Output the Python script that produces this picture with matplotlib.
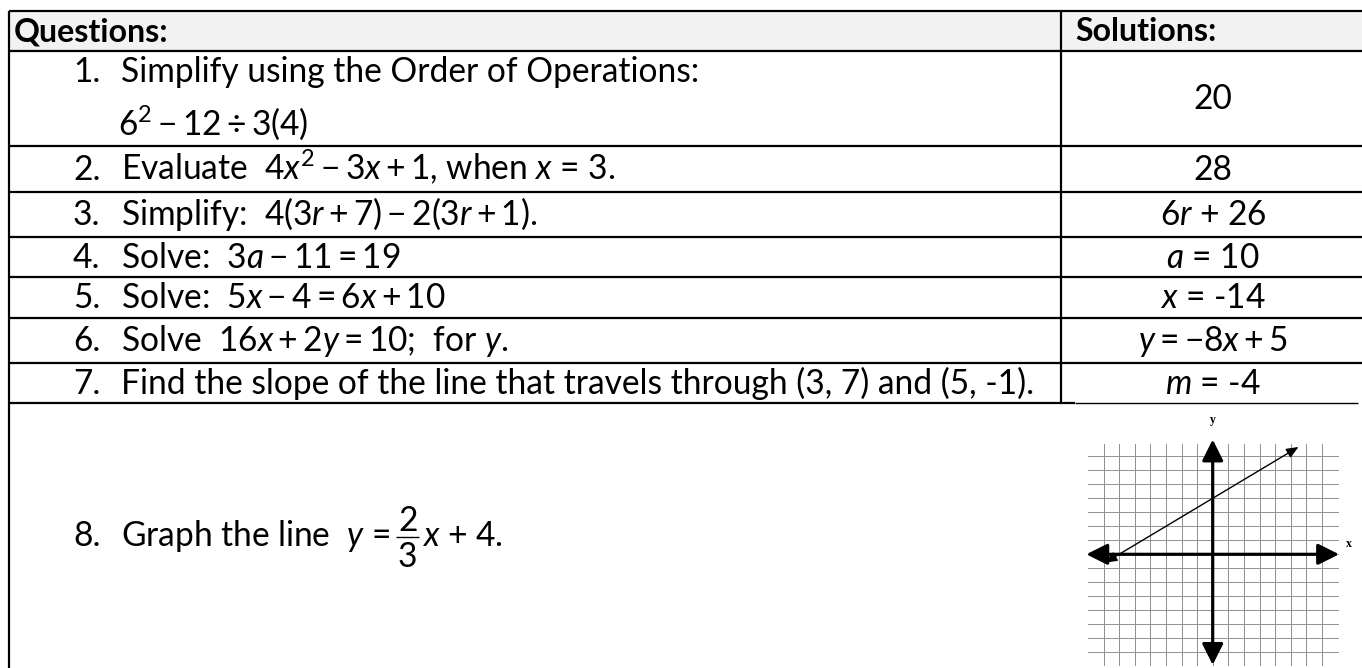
import matplotlib
matplotlib.use("Agg")
import matplotlib.pyplot as plt

plt.rcParams['font.family'] = ['Lato', 'DejaVu Sans']
plt.rcParams['mathtext.fontset'] = 'custom'
plt.rcParams['mathtext.rm'] = 'Lato'
plt.rcParams['mathtext.it'] = 'Lato:italic'
plt.rcParams['mathtext.bf'] = 'Lato:bold'

# ---------------- data ----------------
header_labels = ["Questions:", "Solutions:"]
question_numbers = ["1.", "2.", "3.", "4.", "5.", "6.", "7.", "8."]
question_texts = [
    "Simplify using the Order of Operations:",
    "Evaluate  $4x^2 - 3x + 1$, when $x$ = 3.",
    "Simplify:  $4(3r + 7) - 2(3r + 1)$.",
    "Solve:  $3a - 11 = 19$",
    "Solve:  $5x - 4 = 6x + 10$",
    "Solve  $16x + 2y = 10$;  for $y$.",
    "Find the slope of the line that travels through (3, 7) and (5, -1).",
    "Graph the line  $y$ =",
]
question_second_line = {0: "$6^2 - 12 \\div 3(4)$"}
# pieces of the fraction equation in question 8
q8_numerator, q8_denominator, q8_tail = "2", "3", "$x$ + 4."
solution_texts = ["20", "28", "6$r$ + 26", "$a$ = 10", "$x$ = -14",
                  "$y = -8x + 5$", "$m$ = -4", None]

# graph answer for question 8: y = slope * x + intercept
graph_slope = 2 / 3
graph_intercept = 4
graph_x_ends = [-6.9, 5.5]
grid_range = list(range(-7, 8))

# ---------------- layout (pixels) ----------------
W, H = 1362, 668
row_bounds = [11, 51, 146, 192, 237, 277, 318, 363, 403, 668]
x_left, x_col, x_right = 9, 1061, 1362
x_num, x_text = 73, 121
x_sol_center = 1213

fig = plt.figure(figsize=(W / 100, H / 100), dpi=100)
ax = fig.add_axes([0, 0, 1, 1])
ax.set_xlim(0, W)
ax.set_ylim(H, 0)
ax.axis('off')

# header background
ax.fill_between([x_left, x_right], row_bounds[0], row_bounds[1],
                color='#f2f2f2', lw=0, zorder=0)

lw = 1.6
for i, yb in enumerate(row_bounds[:-1]):
    if i == 8:
        ax.plot([x_left, 1075], [yb, yb], color='black', lw=lw, solid_capstyle='butt')
        ax.plot([1075, 1358], [yb, yb], color='black', lw=1.0, solid_capstyle='butt')
    else:
        ax.plot([x_left, x_right], [yb, yb], color='black', lw=lw, solid_capstyle='butt')
ax.plot([x_left, x_left], [row_bounds[0], H], color='black', lw=lw, solid_capstyle='butt')
ax.plot([x_col, x_col], [row_bounds[0], row_bounds[8]], color='black', lw=lw,
        solid_capstyle='butt')

# font size fitted so that the longest question spans the left column
fig.canvas.draw()
renderer = fig.canvas.get_renderer()
probe = ax.text(0, 0, question_texts[6], fontsize=16)
w16 = probe.get_window_extent(renderer).width
probe.remove()
target_w = 1038 - x_text
fs = 16 * target_w / w16
em = fs * 100 / 72

# header
hb = (row_bounds[0] + row_bounds[1]) / 2 + 10
ax.text(14, hb, header_labels[0], fontsize=fs * 0.96, fontweight='bold', va='baseline')
ax.text(1075, hb, header_labels[1], fontsize=fs * 0.96, fontweight='bold', va='baseline')

# rows
for i in range(8):
    top, bot = row_bounds[i + 1], row_bounds[i + 2]
    center = (top + bot) / 2
    base = center + 10.5
    if i in question_second_line:
        b1, b2 = top + 31, top + 84
        ax.text(x_num, b1, question_numbers[i], fontsize=fs, va='baseline')
        ax.text(x_text, b1, question_texts[i], fontsize=fs, va='baseline')
        ax.text(x_text - 3, b2, question_second_line[i], fontsize=fs, va='baseline')
    else:
        ax.text(x_num, base, question_numbers[i], fontsize=fs, va='baseline')
        t = ax.text(x_text, base, question_texts[i], fontsize=fs, va='baseline')
        if i == 7:
            fig.canvas.draw()
            x_end = t.get_window_extent(renderer).x1
            bar_y = base - 0.28 * em
            half = 0.34 * em
            xf = x_end + 6 + half
            ax.text(xf, bar_y - 0.16 * em, q8_numerator, fontsize=fs,
                    ha='center', va='baseline')
            ax.text(xf, bar_y + 0.14 * em, q8_denominator, fontsize=fs,
                    ha='center', va='top')
            ax.plot([xf - half, xf + half], [bar_y, bar_y], color='black',
                    lw=1.0, solid_capstyle='butt')
            ax.text(xf + half + 3, base, q8_tail, fontsize=fs, va='baseline')
    if solution_texts[i] is not None:
        ax.text(x_sol_center, base, solution_texts[i], fontsize=fs,
                va='baseline', ha='center')

# ---------------- graph inset ----------------
unit_x, unit_y = 15.6, 14.0
x0_px, y0_px = 1212.7, 554.3
gx_min, gx_max = -9.0, 9.6
gy_min, gy_max = -8.2, 10.5
left = x0_px + gx_min * unit_x
right = x0_px + gx_max * unit_x
top_px = y0_px - gy_max * unit_y
bot_px = y0_px - gy_min * unit_y
gax = fig.add_axes([left / W, 1 - bot_px / H, (right - left) / W, (bot_px - top_px) / H])
gax.set_xlim(gx_min, gx_max)
gax.set_ylim(gy_min, gy_max)
gax.axis('off')
gax.patch.set_alpha(0)

for g in grid_range:
    gax.plot([-8, 8], [g, g], color='#8f8f8f', lw=0.7, zorder=1)
    gax.plot([g, g], [-7.9, 7.9], color='#8f8f8f', lw=0.7, zorder=1)

axis_style = dict(arrowstyle='<|-|>,head_length=0.8,head_width=0.4',
                  mutation_scale=16, lw=2.3, color='black',
                  shrinkA=0, shrinkB=0)
gax.annotate('', xy=(8.1, 0), xytext=(-8.1, 0), arrowprops=axis_style, zorder=3)
gax.annotate('', xy=(0, 8.2), xytext=(0, -7.9), arrowprops=axis_style, zorder=3)

gy_ends = [graph_slope * xv + graph_intercept for xv in graph_x_ends]
line_style = dict(arrowstyle='<|-|>,head_length=0.6,head_width=0.25',
                  mutation_scale=12, lw=1.0, color='black',
                  shrinkA=0, shrinkB=0)
gax.annotate('', xy=(graph_x_ends[1], gy_ends[1]), xytext=(graph_x_ends[0], gy_ends[0]),
             arrowprops=line_style, zorder=4)

gax.text(0, 9.6, 'y', fontsize=8.5, fontweight='bold', family='Liberation Serif',
         ha='center', va='center')
gax.text(8.7, 0.7, 'x', fontsize=8.5, fontweight='bold', family='Liberation Serif',
         ha='center', va='center')

fig.savefig('out.png', dpi=100)
